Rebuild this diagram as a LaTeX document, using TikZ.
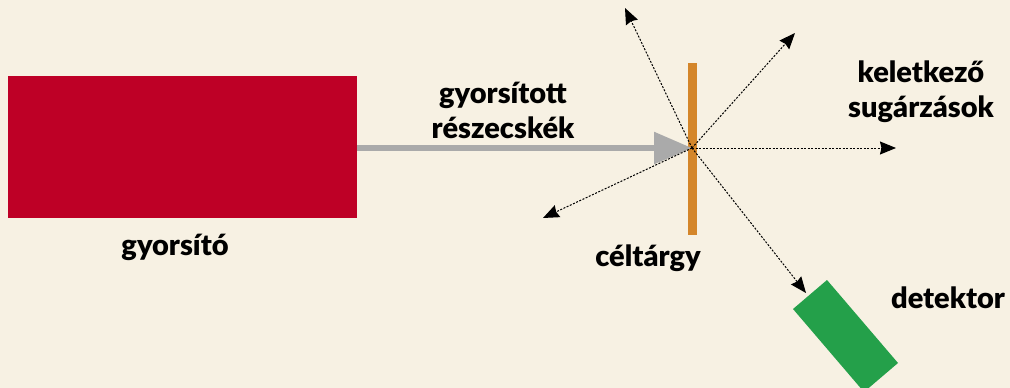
\documentclass[tikz,border=0pt]{standalone}
\usepackage{fontspec}
\setmainfont{Lato}[BoldFont={Lato Black}]
\usetikzlibrary{arrows.meta}
\definecolor{bg}{HTML}{F7F1E3}
\definecolor{accred}{HTML}{BE0026}
\definecolor{beamgray}{HTML}{AAAAAA}
\definecolor{targetor}{HTML}{D4862A}
\definecolor{detgreen}{HTML}{24A04A}
\tikzset{
  lbl/.style={font=\fontsize{29}{35}\selectfont\bfseries, text=black, align=center, inner sep=0pt},
  ray/.style={dash pattern=on 2pt off 1.5pt, line width=1pt, -{Stealth[length=16pt,width=13pt,inset=1.5pt]}},
}
\begin{document}
\begin{tikzpicture}[x=1pt,y=-1pt]
\fill[bg] (0,0) rectangle (1010,388);
\useasboundingbox (0,0) rectangle (1010,388);
% accelerator
\node[fill=accred, minimum width=349pt, minimum height=142pt, inner sep=0pt, anchor=north west] (acc) at (8,76) {};
\node[lbl] (acclbl) at (175,247) {gyorsító};
% target
\node[fill=targetor, minimum width=9pt, minimum height=172pt, inner sep=0pt] (tgt) at (692.5,149) {};
\node[lbl] (tgtlbl) at (648,258) {céltárgy};
\coordinate (c) at (692,148);
% beam
\draw[beamgray, line width=5.5pt, -{Triangle[length=38pt,width=31pt]}] (acc.east |- c) -- (c);
\node[lbl] (beamlbl) at (503,110) {gyorsított\\részecskék};
% rays
\coordinate (r1) at (625,8);
\coordinate (r2) at (795,33);
\coordinate (r3) at (896,148);
\coordinate (r4) at (543,218);
\coordinate (r5) at (806,293);
\foreach \r in {r1,r2,r3,r4,r5} \draw[ray] (c) -- (\r);
\node[lbl] (emlbl) at (921,92) {keletkező\\sugárzások};
% detector
\fill[detgreen] (827,280) -- (793,309) -- (864,392) -- (898,363) -- cycle;
\node[lbl] (detlbl) at (948,298) {detektor};
\end{tikzpicture}
\end{document}
